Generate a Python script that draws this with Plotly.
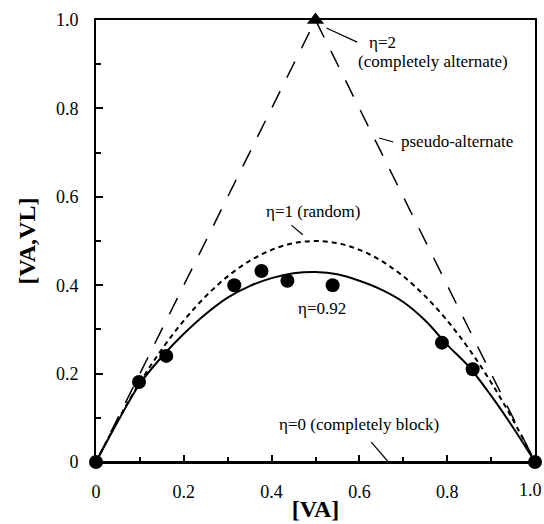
import plotly.graph_objects as go

# Experimental data
va_exp = [0.0, 0.098, 0.16, 0.315, 0.377, 0.436, 0.539, 0.788, 0.858, 1.0]
dyad_exp = [0.0, 0.181, 0.24, 0.40, 0.432, 0.41, 0.40, 0.27, 0.21, 0.0]

# Curves
va_curve = [0.0, 0.05, 0.1, 0.15, 0.2, 0.25, 0.3, 0.35, 0.4, 0.45, 0.5,
            0.55, 0.6, 0.65, 0.7, 0.75, 0.8, 0.85, 0.9, 0.95, 1.0]
random_eta1 = [0.0, 0.095, 0.18, 0.255, 0.32, 0.375, 0.42, 0.455, 0.48, 0.495, 0.5,
               0.495, 0.48, 0.455, 0.42, 0.375, 0.32, 0.255, 0.18, 0.095, 0.0]
fit_eta092 = [0.0, 0.092, 0.177, 0.238, 0.29, 0.335, 0.372, 0.398, 0.416, 0.427, 0.43,
              0.425, 0.41, 0.39, 0.362, 0.32, 0.265, 0.215, 0.15, 0.078, 0.0]
alt_x = [0.0, 0.5, 1.0]
alt_y = [0.0, 1.0, 0.0]
block_x = [0.0, 1.0]
block_y = [0.0, 0.0]
tri_x = [0.5]
tri_y = [1.0]

y_tick_vals = [0, 0.2, 0.4, 0.6, 0.8, 1.0]
y_tick_text = ["0", "0.2", "0.4", "0.6", "0.8", "1.0"]
x_tick_vals = [0, 0.2, 0.4, 0.6, 0.8]
x_tick_text = ["0", "0.2", "0.4", "0.6", "0.8"]
x_last_tick_val = 1.0
x_last_tick_text = "1.0"
minor_vals = [0.1, 0.3, 0.5, 0.7, 0.9]

FONT = "Times New Roman, Liberation Serif, DejaVu Serif, serif"

fig = go.Figure()
fig.add_trace(go.Scatter(x=alt_x, y=alt_y, mode="lines",
                         line=dict(color="black", width=1.5, dash="18px,15px"),
                         cliponaxis=False))
fig.add_trace(go.Scatter(x=va_curve, y=random_eta1, mode="lines",
                         line=dict(color="black", width=2, dash="5px,4px", shape="spline")))
fig.add_trace(go.Scatter(x=va_curve, y=fit_eta092, mode="lines",
                         line=dict(color="black", width=2, shape="spline")))
fig.add_trace(go.Scatter(x=block_x, y=block_y, mode="lines",
                         line=dict(color="black", width=2), cliponaxis=False))
fig.add_trace(go.Scatter(x=va_exp, y=dyad_exp, mode="markers",
                         marker=dict(symbol="circle", size=14, color="black"),
                         cliponaxis=False))
fig.add_trace(go.Scatter(x=tri_x, y=tri_y, mode="markers",
                         marker=dict(symbol="triangle-up", size=15, color="black"),
                         cliponaxis=False))

leaders = [
    ((0.525, 0.982), (0.595, 0.950)),
    ((0.645, 0.733), (0.677, 0.724)),
    ((0.445, 0.536), (0.471, 0.514)),
    ((0.627, 0.045), (0.666, 0.0)),
]
for (x0, y0), (x1, y1) in leaders:
    fig.add_shape(type="line", x0=x0, y0=y0, x1=x1, y1=y1, xref="x", yref="y",
                  line=dict(color="black", width=1.2))

tf = dict(family=FONT, size=17, color="black")
notes = [
    ("η=2", 0.618, 0.948, "left"),
    ("(completely alternate)", 0.593, 0.905, "left"),
    ("pseudo-alternate", 0.691, 0.724, "left"),
    ("η=1 (random)", 0.494, 0.566, "center"),
    ("η=0.92", 0.515, 0.348, "center"),
    ("η=0 (completely block)", 0.600, 0.084, "center"),
]
for txt, x, y, anc in notes:
    fig.add_annotation(text=txt, x=x, y=y, xref="x", yref="y", showarrow=False,
                       xanchor=anc, yanchor="middle", font=tf)

# last x tick label, kept inside the page
fig.add_annotation(text=x_last_tick_text, x=x_last_tick_val, y=0, xref="x", yref="y",
                   showarrow=False, xanchor="right", yanchor="middle",
                   xshift=9, yshift=-28,
                   font=dict(family=FONT, size=18, color="black"))

axis_common = dict(
    range=[0, 1], showgrid=False, zeroline=False,
    showline=True, linecolor="black", linewidth=2, mirror=True,
    ticks="inside", ticklen=7, tickwidth=1.5, tickcolor="black",
    minor=dict(tickvals=minor_vals, ticks="inside", ticklen=5, tickwidth=1.5, tickcolor="black"),
    tickfont=dict(family=FONT, size=18, color="black"),
    ticklabelstandoff=12,
    automargin=False,
)

fig.update_layout(
    width=544, height=524,
    margin=dict(l=96, r=9, t=20, b=62),
    plot_bgcolor="white", paper_bgcolor="white",
    showlegend=False,
    font=dict(family=FONT, color="black"),
    xaxis=dict(**axis_common,
               tickvals=x_tick_vals + [x_last_tick_val], ticktext=x_tick_text + [""],
               title=dict(text="<b>[VA]</b>", font=dict(family=FONT, size=24, color="black"),
                          standoff=0)),
    yaxis=dict(**axis_common,
               tickvals=y_tick_vals, ticktext=y_tick_text,
               title=dict(text="<b>[VA,VL]</b>", font=dict(family=FONT, size=24, color="black"),
                          standoff=14)),
)

fig.write_html("out.html")
